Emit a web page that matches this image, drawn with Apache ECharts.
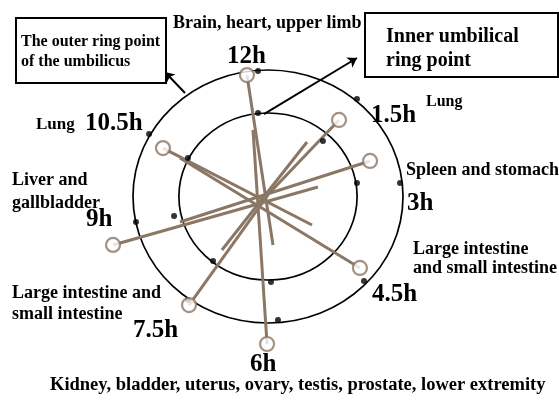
<!DOCTYPE html>
<html>
<head>
<meta charset="utf-8">
<script src="https://cdn.jsdelivr.net/npm/echarts@6/dist/echarts.min.js"></script>
<style>
  html, body { margin: 0; background: #fff; }
  #main { width: 559px; height: 400px; }
</style>
</head>
<body>
<div id="main"></div>
<script>
// everything is in "ring units": outer ring radius = 1, centre = (0, 0)
var ringRadius = [1, 0.66];

var hourText = ['12h', '1.5h', '3h', '4.5h', '6h', '7.5h', '9h', '10.5h'];

// needle handle (open circle) and the other end of each needle
var needleHandle = [
  [-0.156, 0.960], [0.526, 0.605], [0.756, 0.281], [0.681, -0.565],
  [-0.007, -1.166], [-0.585, -0.858], [-1.148, -0.383], [-0.778, 0.383]
];
var needleTip = [
  [0.037, -0.383], [-0.074, -0.067], [-0.652, -0.202], [-0.652, 0.304],
  [-0.111, 0.526], [0.000, 0.012], [0.370, 0.075], [0.326, -0.225]
];
// one more needle without a handle
var looseNeedle = [[0.289, 0.431], [-0.341, -0.423]];

// marked points on the two rings
var outerDots = [
  [-0.074, 0.992], [0.659, 0.771], [0.978, 0.107], [0.711, -0.668],
  [0.074, -0.976], [-0.593, -0.818], [-0.978, -0.202], [-0.881, 0.494]
];
var innerDots = [
  [-0.074, 0.660], [0.407, 0.439], [0.659, 0.107], [0.022, -0.676],
  [-0.407, -0.510], [-0.696, -0.154], [-0.593, 0.304]
];

// pointer arrows from the rings to the two boxes
var pointerArrows = [
  [[-0.615, 0.818], [-0.763, 0.984]],
  [[-0.030, 0.652], [0.659, 1.095]]
];

var boxText = [
  ['The outer ring point', 'of the umbilicus'],
  ['Inner umbilical', 'ring point']
];
var organText = [
  'Brain, heart, upper limb', 'Lung', 'Spleen and stomach',
  'Large intestine', 'and small intestine',
  'Kidney, bladder, uterus, ovary, testis, prostate, lower extremity',
  'Large intestine and', 'small intestine',
  'Liver and', 'gallbladder', 'Lung'
];

var needleColor = '#8a7765';
var serif = '"Liberation Serif", "DejaVu Serif", serif';

function txt(s, x, y, size) {
  return {
    type: 'text', z: 10,
    style: { text: s, x: x, y: y, fill: '#000', verticalAlign: 'middle',
             font: 'bold ' + size + 'px ' + serif }
  };
}

var graphics = [
  { type: 'rect', z: 9, shape: { x: 16, y: 18, width: 150, height: 65 },
    style: { fill: '#fff', stroke: '#000', lineWidth: 2 } },
  { type: 'rect', z: 9, shape: { x: 365, y: 13, width: 193, height: 64 },
    style: { fill: '#fff', stroke: '#000', lineWidth: 2 } },
  txt(boxText[0][0], 21, 42, 16),
  txt(boxText[0][1], 21, 62, 16),
  txt(boxText[1][0], 386, 37, 20),
  txt(boxText[1][1], 386, 61, 20),

  txt(organText[0], 173, 23, 18),
  txt(hourText[0], 227, 57, 25),
  txt(organText[1], 426, 102, 16),
  txt(hourText[1], 371, 116, 25),
  txt(organText[2], 406, 170, 18),
  txt(hourText[2], 407, 204, 25),
  txt(organText[3], 413, 249, 18),
  txt(organText[4], 413, 268, 18),
  txt(hourText[3], 372, 295, 25),
  txt(hourText[4], 250, 365, 25),
  txt(organText[5], 50, 385, 18.5),
  txt(hourText[5], 133, 331, 25),
  txt(organText[6], 12, 293, 18),
  txt(organText[7], 12, 314, 18),
  txt(hourText[6], 86, 220, 25),
  txt(organText[8], 12, 180, 18),
  txt(organText[9], 12, 203, 18),
  txt(organText[10], 36, 125, 17),
  txt(hourText[7], 85, 124, 25)
];

var chart = echarts.init(document.getElementById('main'));
chart.setOption({
  animation: false,
  grid: { left: 92.5, right: 115.5, top: 32.05, bottom: 39.05 },
  xAxis: { type: 'value', min: -1.3, max: 1.3, show: false },
  yAxis: { type: 'value', min: -1.3, max: 1.3, show: false },
  graphic: graphics,
  series: [
    {
      type: 'custom', name: 'rings', silent: true, z: 1,
      data: ringRadius.map(function (r) { return [0, 0, r]; }),
      renderItem: function (params, api) {
        var c = api.coord([api.value(0), api.value(1)]);
        var s = api.size([api.value(2), api.value(2)]);
        return {
          type: 'ellipse',
          shape: { cx: c[0], cy: c[1], rx: s[0], ry: s[1] },
          style: { fill: 'none', stroke: '#000', lineWidth: 1.7 }
        };
      }
    },
    {
      type: 'lines', name: 'arrows', coordinateSystem: 'cartesian2d', z: 2,
      symbol: ['none', 'arrow'], symbolSize: 9,
      lineStyle: { color: '#000', width: 2, opacity: 1 },
      data: pointerArrows.map(function (a) { return { coords: a }; })
    },
    {
      type: 'lines', name: 'needles', coordinateSystem: 'cartesian2d', z: 3,
      lineStyle: { color: needleColor, width: 3, opacity: 1 },
      data: needleHandle.map(function (h, i) { return { coords: [h, needleTip[i]] }; })
        .concat([{ coords: looseNeedle }])
    },
    {
      type: 'scatter', name: 'ring points', z: 4, clip: false,
      symbolSize: 6, itemStyle: { color: '#000' },
      data: outerDots.concat(innerDots)
    },
    {
      type: 'scatter', name: 'handles', z: 5, clip: false,
      symbolSize: 14,
      itemStyle: { color: '#fff', borderColor: needleColor, borderWidth: 2.2 },
      data: needleHandle
    }
  ]
});
</script>
</body>
</html>
